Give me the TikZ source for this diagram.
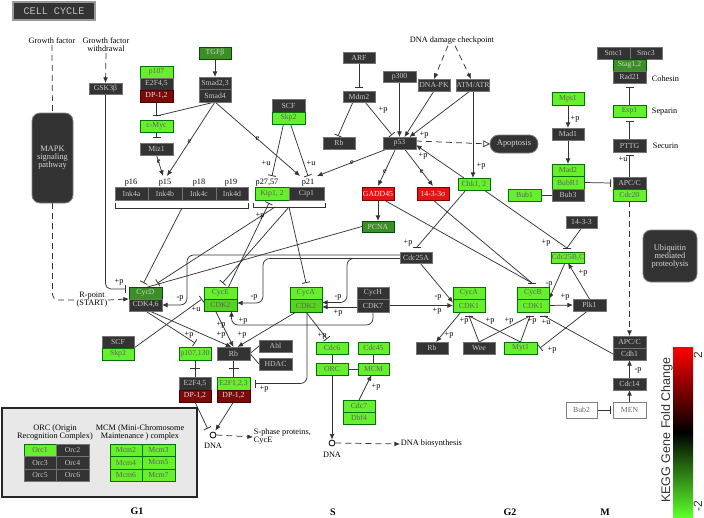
\documentclass[tikz,border=0pt]{standalone}
\usepackage{fontspec}
\setmainfont{Liberation Serif}
\newfontfamily\sansf{Liberation Sans}
\newfontfamily\monof{Liberation Mono}
\usetikzlibrary{arrows.meta,calc}
\pgfdeclarelayer{bg}
\pgfsetlayers{bg,main}
\definecolor{kdark}{HTML}{333333}
\definecolor{kgreen}{HTML}{66F02C}
\definecolor{kgreenb}{HTML}{55D420}
\definecolor{kgreenbar}{HTML}{5CFF2A}
\definecolor{kmed}{HTML}{3C8F26}
\definecolor{kred}{HTML}{E41414}
\definecolor{kdred}{HTML}{7C0A0A}
\definecolor{klin}{HTML}{333333}
\newcommand\kfont{\fontsize{5.8}{6}\selectfont}
\newcommand\tfont{\fontsize{6.2}{6}\selectfont}
\newcommand\kb[7]{%
 \pgfmathsetmacro\kbw{(#5-#3)*0.75}%
 \pgfmathsetmacro\kbh{(#6-#4)*0.75}%
 \pgfmathsetmacro\kbx{(#3+#5)/2}%
 \pgfmathsetmacro\kby{(#4+#6)/2}%
 \node[#2, minimum width=\kbw pt, minimum height=\kbh pt] (#1) at (\kbx,\kby) {#7};}
\newcounter{klc}
\newcommand\klab[2]{\stepcounter{klc}\node[txt] (lab\arabic{klc}) at (#1) {#2};}
\newcommand\kbar[1]{\draw[ln] ($(#1)+(-4,0)$) -- ($(#1)+(4,0)$);}
\tikzset{
 bx/.style={inner sep=0pt, outer sep=0pt, font=\kfont, line width=0.6pt},
 dk/.style={bx, fill=kdark, draw=black!55, text=black!22},
 gr/.style={bx, fill=kgreen, draw=green!45!black, text=black!62},
 grb/.style={bx, fill=kgreenb, draw=green!40!black, text=black!62},
 md/.style={bx, fill=kmed, draw=green!30!black, text=black!18},
 rd/.style={bx, fill=kred, draw=red!50!black, text=black!8},
 dr/.style={bx, fill=kdred, draw=red!30!black, text=black!12},
 wt/.style={bx, fill=white, draw=black!50, text=black!60},
 rnd/.style={bx, rounded corners=6pt, fill=kdark, draw=black!50, text=black!15, align=center, font=\fontsize{6.3}{6}\selectfont},
 txt/.style={inner sep=0.5pt, font=\tfont, text=black, align=center},
 elb/.style={inner sep=0.2pt, font=\tfont, text=black},
 ln/.style={draw=klin, line width=0.55pt},
 act/.style={ln, -{Latex[length=4.2pt,width=3.6pt]}},
 inh/.style={ln, -{Bar[width=6pt,line width=0.6pt]}},
 dsh/.style={ln, dash pattern=on 4.5pt off 3pt},
 dshact/.style={dsh, -{Latex[length=4.2pt,width=3.6pt]}},
}
\begin{document}
\begin{tikzpicture}[x=0.75pt,y=-0.75pt]
\useasboundingbox (0,0) rectangle (704,518);
% title
\node[bx, fill=kdark, draw=black!40, line width=1.2pt, text=black!25, font=\monof\fontsize{7.6}{8}\selectfont, minimum width=61.5pt, minimum height=13.5pt] (title) at (54,11) {CELL CYCLE};
% free texts
\node[txt] (gf) at (52,41) {Growth factor};
\node[txt] (gfw) at (106,45) {Growth factor\\withdrawal};
\node[txt] (dnadmg) at (452,41) {DNA damage checkpoint};
\node[txt] (rpt) at (92,300) {R-point\\(START)};
\node[txt, anchor=west] (cohes) at (651,79) {Cohesin};
\node[txt, anchor=west] (separ) at (651,112) {Separin};
\node[txt, anchor=west] (secur) at (652,146) {Securin};
\klab{131,183}{p16}
\klab{165,183}{p15}
\klab{199,183}{p18}
\klab{231,183}{p19}
\klab{267,183}{p27,57}
\klab{308,183}{p21}
% rounded boxes
\kb{mapk}{rnd}{32}{113}{73}{203}{MAPK\\signaling\\pathway}
\kb{apop}{rnd, rounded corners=6.5pt}{490}{135}{538}{153}{Apoptosis}
\kb{ubq}{rnd}{643}{230}{697}{282}{Ubiquitin\\mediated\\proteolysis}
% gene boxes
\kb{gsk}{dk}{89}{83}{122}{94}{GSK3β}
\kb{p107a}{gr}{140}{66}{173}{78}{p107}
\kb{e2f45a}{dk}{140}{78}{173}{90}{E2F4,5}
\kb{dp12a}{dr}{140}{90}{173}{102}{DP-1,2}
\kb{tgfb}{md}{199}{47}{231}{59}{TGFβ}
\kb{smad23}{dk}{199}{77}{231}{89}{Smad2,3}
\kb{smad4}{dk}{199}{89}{231}{102}{Smad4}
\kb{cmyc}{gr}{140}{120}{173}{132}{c-Myc}
\kb{miz1}{dk}{140}{143}{173}{155}{Miz1}
\kb{ink4a}{dk}{115}{187}{148}{200}{Ink4a}
\kb{ink4b}{dk}{148}{187}{182}{200}{Ink4b}
\kb{ink4c}{dk}{182}{187}{216}{200}{Ink4c}
\kb{ink4d}{dk}{216}{187}{248}{200}{Ink4d}
\kb{scfu}{dk}{272}{99}{305}{112}{SCF}
\kb{skp2u}{gr}{272}{112}{305}{124}{Skp2}
\kb{kip12}{gr}{255}{187}{289}{200}{Kip1, 2}
\kb{cip1}{dk}{289}{187}{324}{200}{Cip1}
\kb{arf}{dk}{343}{52}{375}{63}{ARF}
\kb{mdm2}{dk}{343}{91}{375}{102}{Mdm2}
\kb{p300}{dk}{383}{71}{416}{82}{p300}
\kb{dnapk}{dk}{418}{79}{450}{91}{DNA-PK}
\kb{atm}{dk}{457}{79}{489}{91}{ATM/ATR}
\kb{rb1}{dk}{323}{137}{355}{149}{Rb}
\kb{p53}{dk}{383}{137}{416}{149}{p53}
\kb{gadd45}{rd}{362}{187}{394}{200}{GADD45}
\kb{s1433}{rd}{417}{187}{449}{200}{14-3-3σ}
\kb{chk}{gr}{458}{178}{490}{190}{Chk1, 2}
\kb{pcna}{md}{362}{221}{394}{232}{PCNA}
\kb{cdc25a}{dk}{400}{252}{432}{263}{Cdc25A}
\kb{smc1}{dk}{597}{47}{630}{59}{Smc1}
\kb{smc3}{dk}{630}{47}{662}{59}{Smc3}
\kb{stag}{md}{613}{59}{646}{71}{Stag1,2}
\kb{rad21}{dk}{613}{71}{646}{83}{Rad21}
\kb{esp1}{gr}{613}{105}{646}{117}{Esp1}
\kb{pttg}{dk}{613}{139}{646}{152}{PTTG}
\kb{apcc1}{dk}{613}{177}{646}{189}{APC/C}
\kb{cdc20}{gr}{613}{189}{646}{201}{Cdc20}
\kb{mps1}{gr}{552}{92}{584}{105}{Mps1}
\kb{mad1}{dk}{552}{128}{584}{140}{Mad1}
\kb{mad2}{gr}{552}{164}{584}{176}{Mad2}
\kb{bubr1}{gr}{552}{176}{584}{189}{BubR1}
\kb{bub3}{dk}{552}{189}{584}{201}{Bub3}
\kb{bub1}{gr}{508}{189}{541}{201}{Bub1}
\kb{k1433}{dk}{566}{216}{597}{228}{14-3-3}
\kb{cdc25bc}{gr}{552}{252}{584}{263}{Cdc25B,C}
\kb{cycd}{md}{129}{287}{162}{299}{CycD}
\kb{cdk46}{dk}{129}{299}{162}{311}{CDK4,6}
\kb{cyce}{gr}{204}{287}{237}{299}{CycE}
\kb{cdk2e}{grb}{204}{299}{237}{311}{CDK2}
\kb{cyca2}{gr}{290}{287}{322}{299}{CycA}
\kb{cdk2a}{grb}{290}{299}{322}{312}{CDK2}
\kb{cych}{dk}{357}{287}{389}{299}{CycH}
\kb{cdk7}{dk}{357}{299}{389}{312}{CDK7}
\kb{cyca1}{gr}{453}{287}{485}{299}{CycA}
\kb{cdk1a}{gr}{453}{299}{485}{312}{CDK1}
\kb{cycb}{gr}{517}{287}{549}{299}{CycB}
\kb{cdk1b}{gr}{517}{299}{549}{312}{CDK1}
\kb{plk1}{dk}{573}{299}{606}{311}{Plk1}
\kb{wee}{dk}{463}{342}{495}{354}{Wee}
\kb{myt1}{gr}{504}{342}{537}{354}{Myt1}
\kb{rbg}{dk}{416}{342}{448}{354}{Rb}
\kb{apcc2}{dk}{613}{336}{646}{348}{APC/C}
\kb{cdh1}{dk}{613}{348}{646}{360}{Cdh1}
\kb{cdc14}{dk}{613}{378}{646}{390}{Cdc14}
\kb{men}{wt}{613}{402}{646}{418}{MEN}
\kb{bub2}{wt}{566}{402}{597}{418}{Bub2}
\kb{scfl}{dk}{102}{336}{134}{348}{SCF}
\kb{skp2l}{gr}{102}{348}{134}{360}{Skp2}
\kb{p107l}{gr}{179}{347}{211}{360}{p107,130}
\kb{e2f45l}{dk}{179}{377}{211}{390}{E2F4,5}
\kb{dp12l}{dr}{179}{390}{211}{402}{DP-1,2}
\kb{rbl}{dk}{217}{347}{250}{360}{Rb}
\kb{e2f123}{gr}{217}{377}{250}{390}{E2F1,2,3}
\kb{dp123}{dr}{217}{390}{250}{402}{DP-1,2}
\kb{abl}{dk}{259}{340}{292}{352}{Abl}
\kb{hdac}{dk}{259}{358}{292}{370}{HDAC}
\kb{cdc6}{gr}{316}{342}{348}{354}{Cdc6}
\kb{cdc45}{gr}{358}{342}{389}{354}{Cdc45}
\kb{orc}{gr}{316}{363}{348}{375}{ORC}
\kb{mcm}{gr}{358}{363}{389}{375}{MCM}
\kb{cdc7}{gr}{343}{400}{375}{412}{Cdc7}
\kb{dbf4}{gr}{343}{412}{375}{424}{Dbf4}
% DNA circles and texts
\node[circle, draw=black, line width=0.6pt, fill=white, minimum size=4.5pt, inner sep=0pt] (dnag) at (213,435) {};
\node[txt] (dnagt) at (213,446) {DNA};
\node[txt, anchor=west, align=left] (sphase) at (253,437) {S-phase proteins,\\CycE};
\node[circle, draw=black, line width=0.6pt, fill=white, minimum size=4.5pt, inner sep=0pt] (dnas) at (332,443) {};
\node[txt] (dnast) at (332,455) {DNA};
\node[txt, anchor=west] (dnabio) at (400,444) {DNA biosynthesis};
% inset
\kb{inset}{bx, fill=black!9, draw=black!85, line width=1.3pt}{2}{408}{197}{497}{}
\node[txt] (orct) at (55,433) {ORC (Origin\\Recognition Complex)};
\node[txt] (mcmt) at (140,433) {MCM (Mini-Chromosome\\Maintenance ) complex};
\kb{orc1}{gr}{24}{444}{56}{456}{Orc1}
\kb{orc2}{dk}{56}{444}{89}{456}{Orc2}
\kb{orc3}{dk}{24}{456}{56}{469}{Orc3}
\kb{orc4}{dk}{56}{456}{89}{469}{Orc4}
\kb{orc5}{dk}{24}{469}{56}{481}{Orc5}
\kb{orc6}{dk}{56}{469}{89}{481}{Orc6}
\kb{mcm2}{gr}{110}{444}{142}{456}{Mcm2}
\kb{mcm3}{gr}{142}{444}{175}{456}{Mcm3}
\kb{mcm4}{gr}{110}{456}{142}{469}{Mcm4}
\kb{mcm5}{gr}{142}{456}{175}{469}{Mcm5}
\kb{mcm6}{gr}{110}{469}{142}{481}{Mcm6}
\kb{mcm7}{gr}{142}{469}{175}{481}{Mcm7}
% phases
\node[txt, font=\fontsize{7.5}{8}\selectfont\bfseries] (ph1) at (137,511) {G1};
\node[txt, font=\fontsize{7.5}{8}\selectfont\bfseries] (ph2) at (333,512) {S};
\node[txt, font=\fontsize{7.5}{8}\selectfont\bfseries] (ph3) at (510,512) {G2};
\node[txt, font=\fontsize{7.5}{8}\selectfont\bfseries] (ph4) at (605,512) {M};
% colour bar
\node[bx, minimum width=15pt, minimum height=127.5pt, top color=red, bottom color=kgreenbar, middle color=black] (cbar) at (683,432) {};
\node[rotate=90, inner sep=0pt, font=\sansf\fontsize{9.4}{9}\selectfont, text=black!80] (cbt) at (667,430) {KEGG Gene Fold Change};
\node[rotate=90, inner sep=0pt, font=\sansf\fontsize{9}{9}\selectfont, text=black!80] (cbh) at (698,355) {2};
\node[rotate=90, inner sep=0pt, font=\sansf\fontsize{9}{9}\selectfont, text=black!80] (cbl) at (698,506) {-2};
% labels
\klab{119,282}{+p}
\klab{266,163}{+u}
\klab{311,163}{+u}
\klab{260,216}{+p}
\klab{383,110}{+p}
\klab{424,135}{+p}
\klab{481,166}{+p}
\klab{423,156}{+p}
\klab{408,243}{+p}
\klab{546,243}{+p}
\klab{549,284}{-p}
\klab{583,273}{+p}
\klab{565,297}{+p}
\klab{552,350}{+p}
\klab{464,321}{+p}
\klab{490,321}{+p}
\klab{509,321}{+p}
\klab{532,321}{+p}
\klab{546,322}{+u}
\klab{449,335}{+p}
\klab{623,159}{+u}
\klab{575,119}{+p}
\klab{638,370}{-p}
\klab{180,298}{-p}
\klab{254,297}{-p}
\klab{338,297}{-p}
\klab{438,297}{-p}
\klab{338,313}{+p}
\klab{437,311}{+p}
\klab{243,321}{+p}
\klab{196,309}{+u}
\klab{189,335}{+p}
\klab{221,335}{+p}
\klab{221,325}{+p}
\klab{242,335}{+p}
\klab{322,336}{+p}
\klab{264,389}{+p}
\klab{376,387}{+p}
\begin{pgfonlayer}{bg}
\fill[white] (0,0) rectangle (704,518);
% top left
\draw[dsh] (gf.south) -- (mapk.north);
\draw[dsh, rounded corners=4] (mapk.south) |- (rpt.west);
\draw[dshact] (rpt.east) -- (cycd.south west);
\draw[dshact] (gfw.south) -- (gsk.north);
\draw[inh, rounded corners=4] (gsk.south) |- ($(cycd.north west)+(-3,2)$);
\coordinate (cmb) at ($(cmyc.north)+(0,-4)$);
\draw[inh] (dp12a.south) -- (cmb);
\draw[ln] (smad4.south) -- (cmb);
\draw[act] (tgfb.south) -- (smad23.north);
\draw[inh] (cmyc.south) -- ($(miz1.north)+(0,-5)$);
\coordinate (inkin) at ($(ink4b.north)+(0,-11)$);
\draw[act] (miz1.south) -- node[elb,pos=0.33] (e1) {e} ($(inkin)+(-2,0)$);
\draw[act] (smad4.south) -- node[elb,pos=0.53] (e2) {e} ($(inkin)+(2,0)$);
\coordinate (cipa) at ($(cip1.north)+(-6.5,-11)$);
\draw[act] (smad4.south) -- node[elb,pos=0.5] (e3) {e} (cipa);
\coordinate (kipb) at ($(kip12.north)+(0,-11)$);
\coordinate (cipb) at ($(cip1.north)+(1.5,-11)$);
\draw[inh] ($(skp2u.south)+(-5,0)$) -- (kipb);
\draw[inh] ($(skp2u.south)+(2,0)$) -- (cipb);
% brackets
\draw[ln] ($(ink4a.south west)+(0,3)$) -- ++(0,5) -| ($(ink4d.south east)+(0,3)$);
\draw[ln] ($(kip12.south west)+(-2,3)$) -- ++(0,4) -| ($(cip1.south east)+(1,3)$);
\coordinate (inkbr) at ($(ink4b.south east)+(0,8)$);
\draw[inh] (inkbr) -- ($(cycd.north)+(-2,-4)$);
\coordinate (kipbr) at ($(kip12.south east)+(0,7)$);
\draw[inh] ($(kipbr)+(-14,0)$) -- ($(cycd.north)+(12,-4)$);
\draw[inh] (kipbr) -- ($(cyce.north)+(2,-4)$);
\draw[inh] (kipbr) -- ($(cyca2.north)+(0,-4)$);
\draw[ln] (pcna.west) -- ($(cycd.north)+(2,0)$);
\draw[inh] ($(cyce.north)+(8,0)$) -- ($(kip12.south)+(-3,3)$);
% p53 region
\draw[inh] (arf.south) -- ($(mdm2.north)+(0,-3)$);
\draw[inh] ($(mdm2.south)+(-6,0)$) -- ($(rb1.north)+(-1,-1)$);
\draw[inh] ($(mdm2.south)+(6,0)$) -- ($(p53.north west)+(9,-2)$);
\draw[act] (p300.south) -- (p53.north);
\draw[act] (dnapk.south) -- ($(p53.north)+(5,0)$);
\draw[act] ($(atm.south)+(-3,0)$) -- ($(p53.north)+(10,0)$);
\draw[dshact] ($(dnadmg.south)+(-4,0)$) -- (dnapk.north);
\draw[dshact] ($(dnadmg.south)+(3,0)$) -- ($(atm.north)+(-2,0)$);
\draw[act] (atm.south) -- ($(chk.north)+(-1,0)$);
\draw[act] ($(chk.north west)+(6,0)$) -- ($(p53.east)+(0,2)$);
\draw[dsh, -{Triangle[open, length=5pt, width=5pt]}] ($(p53.east)+(0,-2)$) -- (apop.west);
\draw[act] ($(p53.south)+(-4,0)$) -- node[elb,pos=0.6] (e4) {e} ($(gadd45.north)+(0,-1)$);
\draw[act] ($(p53.south)+(5,0)$) -- node[elb,pos=0.6] (e5) {e} ($(s1433.north)+(0,-1)$);
\coordinate (cipc) at ($(cip1.north)+(10.5,-11)$);
\draw[act] ($(p53.south west)+(4,0)$) -- node[elb,pos=0.5] (e6) {e} (cipc);
\draw[act] (gadd45.south) -- (pcna.north);
\coordinate (bbar) at ($(cycb.north)+(-1,-4)$);
\draw[ln] ($(gadd45.south)+(6,0)$) -- (bbar);
\draw[ln] (s1433.south) -- (bbar);
\kbar{bbar}
\coordinate (abar) at ($(cdc25a.north)+(1,-5)$);
\draw[ln] ($(chk.south)+(-8,0)$) -- (abar);
\kbar{abar}
\coordinate (bcbar) at ($(cdc25bc.north)+(-1,-4)$);
\draw[ln] ($(chk.south east)+(-6,0)$) -- (bcbar);
\draw[ln] (k1433.south) -- (bcbar);
\kbar{bcbar}
% G2/M
\draw[act] ($(cdc25bc.south)+(-3,0)$) -- (cycb.south east);
\draw[act] (plk1.north) -- (cdc25bc.south);
\draw[act] (cdk1b.east) -- (plk1.west);
\draw[inh] ($(plk1.south)+(-2,0)$) -- ($(myt1.east)+(3,0)$);
\coordinate (wba) at ($(cdk1a.south)+(0,4)$);
\coordinate (wbb) at ($(cdk1b.south)+(-3,4)$);
\coordinate (wbc) at ($(cdk1b.south east)+(-5,4)$);
\draw[ln] (wee.north) -- (wba);
\draw[ln] (wee.north) -- (wbb);
\draw[ln] (myt1.north) -- (wba);
\draw[ln] (myt1.north) -- (wbb);
\draw[ln] (cdh1.west) -- (wbc);
\kbar{wba}\kbar{wbb}\kbar{wbc}
\draw[act] ($(cdk1a.south)+(-8,0)$) -- ($(rbg.north)+(4,0)$);
\draw[dshact] (cdc20.south) -- (apcc2.north);
\draw[inh] (apcc1.north) -- ($(pttg.south)+(0,3)$);
\draw[inh] (pttg.north) -- ($(esp1.south)+(0,4)$);
\draw[inh] (esp1.north) -- ($(rad21.south)+(0,4)$);
\draw[act] (mps1.south) -- (mad1.north);
\draw[act] (mad1.south) -- (mad2.north);
\draw[ln] (bub1.east) -- (bub3.west);
\draw[inh] (bubr1.east) -- ($(apcc1.west)+(-2,0)$);
\draw[act] (cdc14.north) -- (cdh1.south);
\draw[act] (men.north) -- (cdc14.south);
\draw[inh] (bub2.east) -- ($(men.west)+(-2,0)$);
% CDK area
\draw[act, rounded corners=5] ($(cdc25a.west)+(0,-2.5)$) -| ($(cdk46.east)+(25,0)$) -- (cdk46.east);
\draw[act, rounded corners=5] ($(cdc25a.west)+(0,1)$) -| ($(cdk2e.east)+(26,-2)$) -- ($(cdk2e.east)+(0,-2)$);
\draw[act, rounded corners=5] ($(cdc25a.west)+(0,1)$) -| ($(cdk2a.east)+(25,-3)$) -- ($(cdk2a.east)+(0,-3)$);
\draw[act] ($(cdc25a.south)+(4,0)$) -- ($(cdk1a.west)+(0,-3)$);
\draw[act] ($(cdk7.west)+(0,1.5)$) -- ($(cdk2a.east)+(0,1.5)$);
\draw[act] (cdk7.east) -- (cdk1a.west);
\draw[act, rounded corners=5] (cdk7.south) |- ($(cdk2e.south)+(11,14)$) -- ($(cdk2e.south)+(11,0)$);
\draw[inh] (skp2l.north east) -- ($(cyce.south west)+(-2,0)$);
\draw[inh] (cdk46.south) -- ($(p107l.north)+(0,-4)$);
\draw[act] ($(cdk46.south)+(4,0)$) -- ($(rbl.north)+(-2,0)$);
\draw[act] ($(cdk2e.south)+(-5,0)$) -- (rbl.north);
\draw[act] ($(cdk2a.south)+(-10,0)$) -- ($(rbl.north)+(4,0)$);
\draw[inh] (cdk2a.south) -- ($(cdc6.north)+(-5,-3)$);
\draw[inh, rounded corners=5] ($(cdk2a.south)+(1,0)$) |- ($(e2f123.east)+(5,0)$);
\draw[ln] (rbl.east) -- (abl.west);
\draw[ln] (rbl.east) -- (hdac.west);
\draw[ln] (rbl.south) -- (e2f123.north);
\draw[ln] ($(rbl.south)!0.5!(e2f123.north)+(-5,0)$) -- ++(10,0);
\draw[ln] (p107l.south) -- (e2f45l.north);
\draw[ln] ($(p107l.south)!0.5!(e2f45l.north)+(-5,0)$) -- ++(10,0);
\draw[inh] (dp12l.south) -- ($(dnag.north west)+(-3,-4)$);
\draw[act] (dp123.south) -- ($(dnag.north east)+(0,-2)$);
\draw[dshact] (dnag.east) -- (sphase.west);
\draw[ln] (cdc6) -- (orc);
\draw[ln] (cdc45) -- (mcm);
\draw[ln] (orc) -- (mcm);
\draw[act] (orc.south) -- (dnas.north);
\draw[dshact] (dnas.east) -- (dnabio.west);
\draw[act] (cdc7.north) -- ($(mcm.south)+(-2,0)$);
\end{pgfonlayer}
\end{tikzpicture}
\end{document}
